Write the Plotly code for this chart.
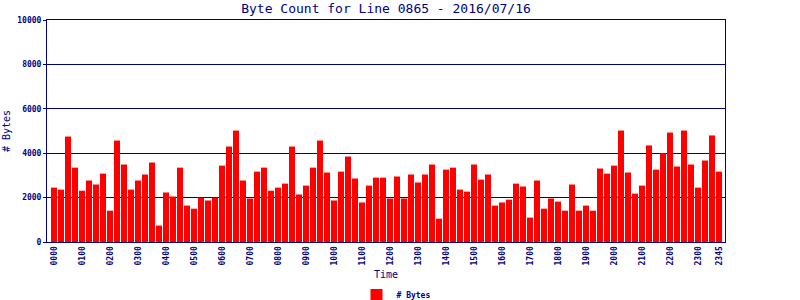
import plotly.graph_objects as go

times = [f"{h:02d}{m:02d}" for h in range(24) for m in (0, 15, 30, 45)]

byte_counts = [
    2450, 2360, 4750, 3350, 2310, 2770, 2590, 3080,
    1410, 4570, 3490, 2360, 2770, 3040, 3580, 740,
    2230, 2050, 3350, 1640, 1500, 2000, 1870, 2000,
    3440, 4300, 5020, 2770, 1960, 3170, 3350, 2310,
    2450, 2630, 4300, 2140, 2540, 3350, 4570, 3130,
    1870, 3170, 3850, 2860, 1780, 2540, 2900, 2900,
    1960, 2950, 1960, 3040, 2680, 3040, 3490, 1050,
    3260, 3350, 2360, 2270, 3490, 2810, 3040, 1640,
    1780, 1910, 2630, 2500, 1100, 2770, 1500, 1960,
    1820, 1410, 2590, 1410, 1640, 1410, 3310, 3080,
    3440, 5020, 3130, 2180, 2540, 4350, 3260, 4000,
    4930, 3400, 5020, 3490, 2450, 3670, 4800, 3170,
]

tick_labels = [f"{h:02d}00" for h in range(24)] + ["2345"]
tick_index = [times.index(t) for t in tick_labels]

y_ticks = [0, 2000, 4000, 6000, 8000, 10000]
y_tick_labels = [str(v) for v in y_ticks]

navy = "#000080"
mono = "DejaVu Sans Mono"

fig = go.Figure()
fig.add_trace(go.Bar(
    x=list(range(len(times))),
    y=byte_counts,
    name="# Bytes",
    marker=dict(color="#FF0000", line=dict(width=0)),
    showlegend=True,
))

fig.update_layout(
    width=800, height=300,
    margin=dict(l=47, r=75, t=20, b=58, autoexpand=False),
    paper_bgcolor="white", plot_bgcolor="white",
    bargap=0.14,
    title=dict(
        text="Byte Count for Line 0865 - 2016/07/16",
        font=dict(family=mono, size=13, color=navy),
        x=386 / 800, xanchor="center",
        y=1 - 8 / 300, yanchor="middle",
    ),
    xaxis=dict(
        range=[-1, 95.86],
        tickmode="array", tickvals=tick_index, ticktext=tick_labels,
        tickangle=-90,
        tickfont=dict(family=mono, size=8, color=navy, weight="bold"),
        showgrid=False, zeroline=False,
        showline=True, linecolor=navy, linewidth=1, mirror=True,
        ticks="", ticklen=0,
        automargin=False,
        title=dict(text="Time", font=dict(family=mono, size=10, color=navy), standoff=13),
    ),
    yaxis=dict(
        range=[0, 10000],
        tickmode="array", tickvals=y_ticks, ticktext=y_tick_labels,
        tickfont=dict(family=mono, size=8, color=navy, weight="bold"),
        showgrid=True, gridcolor=navy, gridwidth=1,
        zeroline=False,
        showline=True, linecolor=navy, linewidth=1, mirror=True,
        ticks="outside", ticklen=3, tickcolor=navy,
        automargin=False,
        title=dict(text="# Bytes", font=dict(family=mono, size=10, color=navy), standoff=4),
    ),
    legend=dict(
        orientation="h",
        xref="container", yref="container",
        x=396 / 800, xanchor="center",
        y=1 - 295 / 300, yanchor="middle",
        font=dict(family=mono, size=8, color=navy, weight="bold"),
        itemwidth=30,
    ),
)

fig.write_html("out.html")
